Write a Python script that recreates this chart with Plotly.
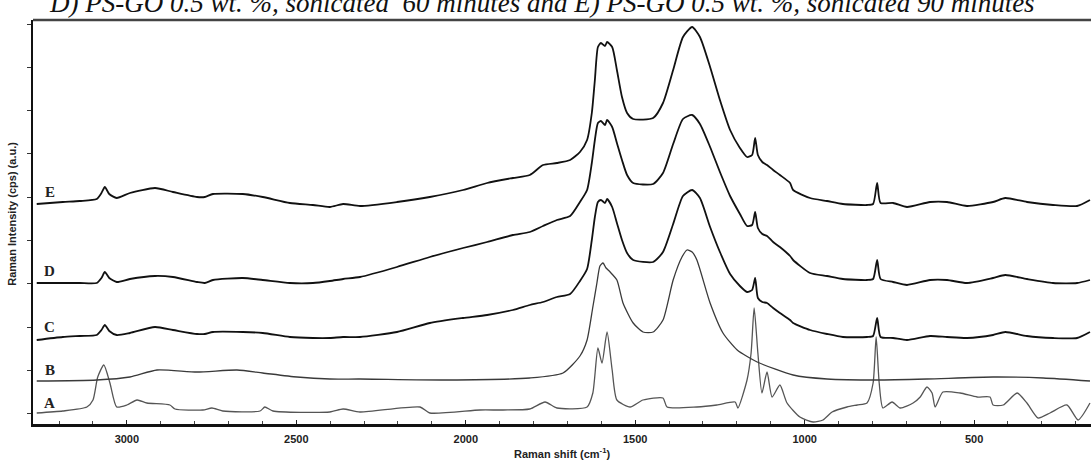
import plotly.graph_objects as go

# Raman shift grid (cm-1) shared by spectra C, D, E
x_cde = [3266, 3189, 3139, 3089, 3075, 3065, 3052, 3030, 2991, 2917,
         2864, 2793, 2770, 2746, 2658, 2599, 2519, 2451, 2401, 2362,
         2312, 2203, 2106, 2008, 1937, 1861, 1811, 1772, 1731, 1692,
         1663, 1642, 1628, 1619, 1610, 1601, 1589, 1583, 1568, 1554,
         1539, 1524, 1506, 1447, 1418, 1388, 1359, 1332, 1309, 1279,
         1250, 1220, 1191, 1170, 1155, 1146, 1138, 1125, 1111, 1093,
         1073, 1043, 1034, 984, 934, 887, 816, 798, 786, 776,
         739, 698, 630, 580, 521, 444, 408, 344, 267, 196,
         158]

y_E = [220, 222, 223, 225, 231, 237, 230, 226, 231, 236,
       232, 227, 227, 230, 230, 227, 221, 219, 217, 220,
       218, 222, 227, 234, 241, 246, 249, 259, 261, 264,
       272, 284, 311, 344, 377, 381, 378, 382, 377, 354,
       327, 311, 305, 306, 321, 354, 387, 397, 387, 357,
       324, 294, 276, 267, 269, 286, 269, 262, 259, 254,
       249, 241, 234, 226, 223, 220, 219, 220, 241, 221,
       221, 217, 222, 222, 218, 222, 226, 222, 219, 218,
       224]

y_D = [141, 141, 141, 141, 146, 152, 146, 142, 145, 148,
       147, 142, 141, 144, 146, 144, 141, 141, 143, 145,
       147, 157, 167, 176, 182, 189, 192, 198, 204, 208,
       222, 234, 261, 284, 301, 303, 299, 304, 297, 281,
       264, 249, 241, 240, 251, 280, 305, 309, 300, 277,
       252, 228, 210, 198, 199, 212, 196, 190, 188, 182,
       177, 168, 164, 151, 148, 145, 144, 145, 164, 145,
       142, 139, 144, 144, 141, 146, 149, 145, 141, 141,
       144]

y_C = [84, 87, 88, 89, 94, 99, 93, 89, 91, 97,
       94, 90, 90, 92, 92, 91, 87, 86, 86, 87,
       87, 92, 101, 106, 109, 114, 119, 122, 127, 130,
       143, 155, 184, 207, 222, 224, 221, 225, 217, 201,
       184, 171, 164, 162, 172, 200, 228, 234, 226, 197,
       172, 150, 138, 132, 134, 146, 126, 122, 121, 116,
       111, 104, 101, 94, 90, 87, 87, 88, 106, 87,
       86, 84, 88, 87, 86, 89, 92, 88, 86, 86,
       92]

x_B = [3266, 3089, 2991, 2911, 2793, 2675, 2599, 2498, 2401, 2312,
       2055, 1811, 1713, 1663, 1642, 1625, 1613, 1604, 1595, 1586,
       1574, 1554, 1536, 1506, 1477, 1447, 1418, 1388, 1362, 1347,
       1332, 1318, 1279, 1241, 1199, 1140, 1034, 934, 786, 639,
       444, 296, 158]
y_B = [43, 44, 47, 54, 52, 54, 51, 47, 45, 45,
       44, 46, 51, 68, 84, 117, 141, 158, 161, 156,
       152, 144, 121, 101, 92, 92, 104, 144, 167, 174,
       172, 164, 121, 91, 74, 62, 49, 45, 44, 45,
       47, 46, 43]

x_A = [3266, 3189, 3118, 3100, 3086, 3068, 3050, 3030, 3000, 2970,
       2941, 2873, 2858, 2776, 2749, 2717, 2607, 2593, 2569, 2401,
       2362, 2312, 2135, 2106, 1958, 1890, 1811, 1766, 1731, 1642,
       1625, 1610, 1598, 1583, 1568, 1554, 1515, 1477, 1418, 1406,
       1318, 1259, 1205, 1197, 1170, 1158, 1149, 1138, 1126, 1111,
       1096, 1073, 1052, 1014, 975, 946, 919, 875, 845, 816,
       798, 789, 780, 769, 742, 718, 680, 659, 639, 624,
       615, 592, 541, 491, 453, 444, 414, 373, 344, 311,
       276, 226, 193, 158]
y_A = [11, 13, 17, 24, 47, 59, 41, 17, 19, 24,
       21, 19, 15, 14, 16, 13, 13, 17, 13, 12,
       15, 12, 17, 11, 14, 14, 15, 22, 16, 17,
       31, 76, 61, 92, 54, 24, 17, 24, 26, 17,
       17, 19, 22, 16, 44, 71, 116, 71, 31, 52,
       27, 39, 21, 7, 2, 4, 12, 17, 19, 21,
       41, 87, 41, 16, 22, 16, 21, 27, 37, 31,
       17, 32, 31, 27, 27, 19, 19, 31, 21, 6,
       11, 19, 4, 21]

x_major_ticks = [3000, 2500, 2000, 1500, 1000, 500]
y_ticks = [11, 54, 97, 141, 184, 227, 271, 314, 357, 400]
curve_labels = ["A", "B", "C", "D", "E"]
label_y = [21, 54, 97, 153, 232]

title_text = ("D) PS-GO 0.5 wt. %, sonicated  60 minutes and "
              "E) PS-GO 0.5 wt. %, sonicated 90 minutes")

fig = go.Figure()
series = [
    (x_A, y_A, "#555555", 1.3),
    (x_B, y_B, "#3a3a3a", 1.3),
    (x_cde, y_C, "#111111", 1.8),
    (x_cde, y_D, "#111111", 1.8),
    (x_cde, y_E, "#111111", 1.8),
]
for name, (xs, ys, col, w) in zip(curve_labels, series):
    fig.add_trace(go.Scatter(x=xs, y=ys, mode="lines", name=name,
                             line=dict(color=col, width=w, shape="spline", smoothing=0.6),
                             showlegend=False, hoverinfo="skip"))

for lab, ly in zip(curve_labels, label_y):
    fig.add_annotation(x=3227, y=ly, xref="x", yref="y", text=f"<b>{lab}</b>",
                       showarrow=False, xanchor="center", yanchor="middle",
                       font=dict(family="Liberation Serif", size=15, color="#222"))

fig.add_annotation(x=0.481, y=1, xref="paper", yref="paper", text=f"<i>{title_text}</i>",
                   showarrow=False, xanchor="center", yanchor="bottom", yshift=0,
                   font=dict(family="Liberation Serif", size=27, color="#111"))

fig.add_annotation(x=0.5, y=-0.072, xref="paper", yref="paper",
                   text="<b>Raman shift (cm<sup>-1</sup>)</b>", showarrow=False,
                   xanchor="center", yanchor="middle",
                   font=dict(family="Arial", size=11, color="#222"))
fig.add_annotation(x=-0.02, y=0.52, xref="paper", yref="paper",
                   text="<b>Raman Intensity (cps) (a.u.)</b>", showarrow=False,
                   textangle=-90, xanchor="center", yanchor="middle",
                   font=dict(family="Arial", size=11, color="#222"))

fig.add_shape(type="line", xref="paper", yref="paper", x0=0, x1=1, y0=1, y1=1,
              line=dict(color="#444", width=2.5))

fig.update_layout(
    width=1091, height=461,
    margin=dict(l=33, r=0, t=20, b=37),
    plot_bgcolor="white", paper_bgcolor="white",
    xaxis=dict(range=[3277, 155], tickvals=x_major_ticks,
               ticks="inside", ticklen=4, tickwidth=1, tickcolor="#222",
               minor=dict(dtick=100, ticks="inside", ticklen=3, tickcolor="#444"),
               showline=True, linecolor="#111", linewidth=2.5,
               showgrid=False, zeroline=False, ticklabelstandoff=3,
               tickfont=dict(family="Arial", size=11, color="#222", weight="bold")),
    yaxis=dict(range=[0, 404], tickvals=y_ticks, showticklabels=False,
               ticks="outside", ticklen=4, tickcolor="#333",
               showline=True, linecolor="#111", linewidth=2,
               showgrid=False, zeroline=False),
)

fig.write_html("out.html", config={"displayModeBar": False},
               post_script="document.body.style.margin='0';document.body.style.overflow='hidden';")
